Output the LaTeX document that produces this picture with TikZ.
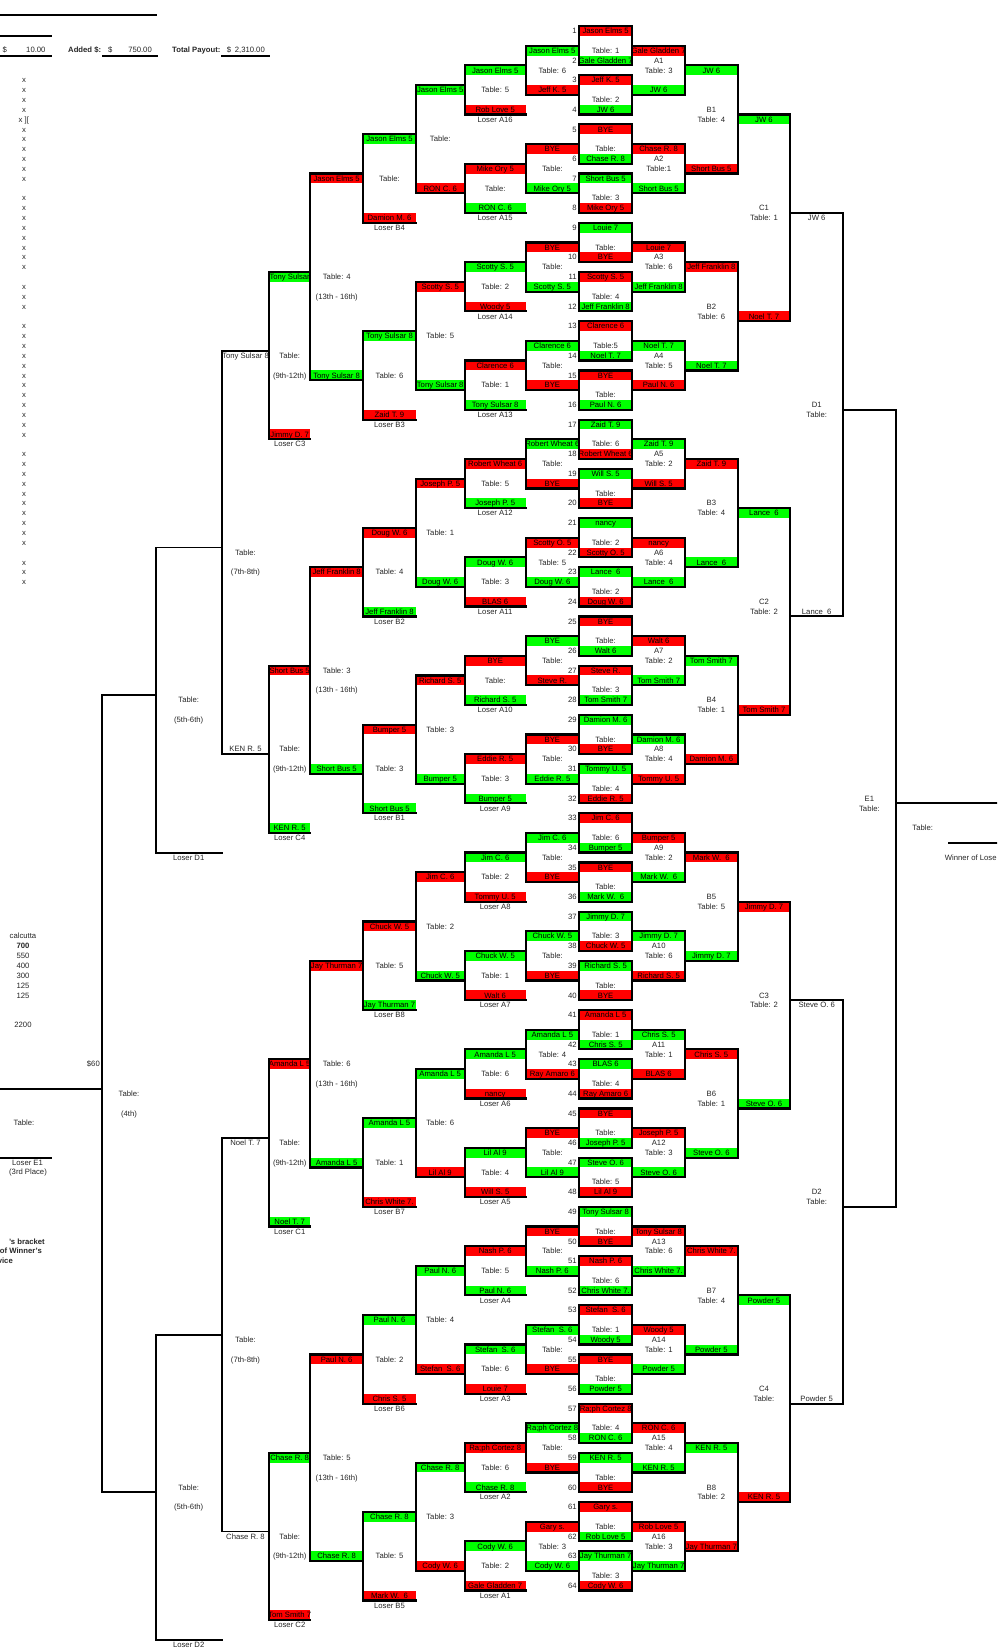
\documentclass[tikz,border=0pt]{standalone}
\usepackage{fontspec}
\setmainfont{Liberation Sans}
\pgfdeclarelayer{bg}
\pgfsetlayers{bg,main}
\definecolor{rd}{RGB}{255,0,0}
\definecolor{gn}{RGB}{0,255,0}
\newcounter{nd}
\tikzset{
 nm/.code={\stepcounter{nd}\pgfkeysalso{name=n\arabic{nd}}},
 tx/.style={nm,inner sep=0pt,font=\fontsize{7.7}{8.5}\selectfont,text=black!85,text height=5.5pt,text depth=0pt},
 bt/.style={tx,text=black},
 hb/.style={tx,font=\fontsize{7.7}{8.5}\selectfont\bfseries},
 bx/.style={line width=2.2pt,line join=miter,line cap=rect},
 br/.style={line width=1.9pt,line join=miter,line cap=rect},
}
% band: x1 x2 row color text
\newcommand\bkBand[5]{%
 \begin{pgfonlayer}{bg}\fill[#4] (#1,#3) rectangle (#2,#3+1);\end{pgfonlayer}%
 \node[bt] at ({(#1+#2)/2},#3+0.5) {#5};}
% winners bracket box (closed on right)
\newcommand\bkW[8]{\bkBand{#1}{#2}{#3}{#5}{#6}\bkBand{#1}{#2}{#4}{#7}{#8}%
 \draw[bx] (#1,#3) -- (#2,#3) -- (#2,#4+1) -- (#1,#4+1);}
% losers bracket box (closed on left)
\newcommand\bkL[8]{\bkBand{#1}{#2}{#3}{#5}{#6}\bkBand{#1}{#2}{#4}{#7}{#8}%
 \draw[bx] (#2,#3) -- (#1,#3) -- (#1,#4+1) -- (#2,#4+1);}
% first round
\newcommand\bkR[6]{%
 \pgfmathtruncatemacro\ra{5*#1}\pgfmathtruncatemacro\rb{5*#1+3}%
 \pgfmathtruncatemacro\sa{2*#1+1}\pgfmathtruncatemacro\sb{2*#1+2}%
 \bkBand{579}{632.3}{\ra}{#2}{#3}\bkBand{579}{632.3}{\rb}{#4}{#5}%
 \draw[bx] (579,\ra) rectangle (632.3,\rb+1);%
 \node[tx] at (605.6,\ra+2.5) {#6};%
 \node[tx,anchor=east] at (576.8,\ra+0.5) {\sa};%
 \node[tx,anchor=east] at (576.8,\rb+0.5) {\sb};}
\newcommand\bkA[6]{%
 \pgfmathtruncatemacro\ra{10*#1+2}\pgfmathtruncatemacro\rb{10*#1+6}\pgfmathtruncatemacro\jj{#1+1}%
 \bkW{632.3}{685}{\ra}{\rb}{#2}{#3}{#4}{#5}%
 \node[tx] at (658.7,\ra+1.5) {A\jj};\node[tx] at (658.7,\ra+2.5) {#6};}
\newcommand\bkB[6]{%
 \pgfmathtruncatemacro\ra{20*#1+4}\pgfmathtruncatemacro\rb{20*#1+14}\pgfmathtruncatemacro\jj{#1+1}%
 \bkW{685}{737.7}{\ra}{\rb}{#2}{#3}{#4}{#5}%
 \node[tx] at (711.4,\ra+4.5) {B\jj};\node[tx] at (711.4,\ra+5.5) {#6};}
\newcommand\bkC[6]{%
 \pgfmathtruncatemacro\ra{40*#1+9}\pgfmathtruncatemacro\rb{40*#1+29}\pgfmathtruncatemacro\jj{#1+1}%
 \bkW{737.7}{790.3}{\ra}{\rb}{#2}{#3}{#4}{#5}%
 \node[tx] at (764,\ra+9.5) {C\jj};\node[tx] at (764,\ra+10.5) {#6};}
\newcommand\bkD[3]{%
 \pgfmathtruncatemacro\ra{80*#1+19}\pgfmathtruncatemacro\rb{80*#1+59}\pgfmathtruncatemacro\jj{#1+1}%
 \draw[br] (790.3,\ra) -- (843,\ra) -- (843,\rb+1) -- (790.3,\rb+1);%
 \node[tx] at (816.7,\ra+0.5) {#2};\node[tx] at (816.7,\rb+0.5) {#3};%
 \node[tx] at (816.7,\ra+19.5) {D\jj};\node[tx] at (816.7,\ra+20.5) {Table:};}
% losers columns
\newcommand\bkLa[6]{%
 \pgfmathtruncatemacro\ra{10*#1+2}\pgfmathtruncatemacro\rb{10*#1+6}%
 \bkL{525.7}{579}{\ra}{\rb}{#2}{#3}{#4}{#5}%
 \node[tx] at (552.4,\ra+2.5) {#6};}
\newcommand\bkLb[6]{%
 \pgfmathtruncatemacro\ra{10*#1+4}\pgfmathtruncatemacro\rb{10*#1+8}\pgfmathtruncatemacro\kk{16-#1}%
 \bkL{464.7}{525.7}{\ra}{\rb}{#2}{#3}{#4}{#5}%
 \node[tx] at (495.2,\ra+2.5) {#6};\node[tx] at (495.2,\ra+5.5) {Loser A\kk};}
\newcommand\bkLc[6]{%
 \pgfmathtruncatemacro\ra{20*#1+6}\pgfmathtruncatemacro\rb{20*#1+16}%
 \bkL{415.7}{464.7}{\ra}{\rb}{#2}{#3}{#4}{#5}%
 \node[tx] at (440.2,\ra+5.5) {#6};}
\newcommand\bkLd[7]{%
 \pgfmathtruncatemacro\ra{20*#1+11}\pgfmathtruncatemacro\rb{20*#1+19}%
 \bkL{363.3}{415.7}{\ra}{\rb}{#2}{#3}{#4}{#5}%
 \node[tx] at (389.5,\ra+4.5) {#6};\node[tx] at (389.5,\ra+9.5) {#7};}
\newcommand\bkLe[6]{%
 \pgfmathtruncatemacro\ra{40*#1+15}\pgfmathtruncatemacro\rb{40*#1+35}%
 \bkL{310}{363.3}{\ra}{\rb}{#2}{#3}{#4}{#5}%
 \node[tx] at (336.7,\ra+10.5) {#6};\node[tx] at (336.7,\ra+12.5) {(13th - 16th)};}
\newcommand\bkLf[6]{%
 \pgfmathtruncatemacro\ra{40*#1+25}\pgfmathtruncatemacro\rb{40*#1+41}%
 \bkL{269.3}{310}{\ra}{\rb}{#2}{#3}{#4}{#5}%
 \node[tx] at (289.7,\ra+8.5) {Table:};\node[tx] at (289.7,\ra+10.5) {(9th-12th)};%
 \node[tx] at (289.7,\ra+17.5) {#6};}
\begin{document}
\begin{tikzpicture}[x=1pt,y=-9.84pt]
\path[use as bounding box] (0,-2.6423) rectangle (997,164.8374);
\clip (0,-2.6423) rectangle (997,164.8374);
% ---------- header ----------
\draw[br,line width=1.8pt] (0,-1.118) -- (156,-1.118);
\draw[br,line width=1.8pt] (0,0.986) -- (50.7,0.986);
\draw[br,line width=1.8pt] (0,3.018) -- (50.7,3.018);
\draw[br,line width=1.8pt] (103,3.018) -- (156.7,3.018);
\draw[br,line width=1.8pt] (222,3.018) -- (269,3.018);
\node[tx,anchor=west] at (2.5,2.44) {\$};
\node[tx,anchor=east] at (45.7,2.44) {10.00};
\node[hb,anchor=west] at (68,2.44) {Added \$:};
\node[tx,anchor=west] at (108,2.44) {\$};
\node[tx,anchor=east] at (152,2.44) {750.00};
\node[hb,anchor=west] at (172,2.44) {Total Payout:};
\node[tx,anchor=west] at (226.7,2.44) {\$};
\node[tx,anchor=east] at (265,2.44) {2,310.00};
% ---------- x list ----------
\foreach \r in {5,6,7,8,10,11,12,13,14,15,17,18,19,20,21,22,23,24,26,27,28,30,31,32,33,34,35,36,37,38,39,40,41,43,44,45,46,47,48,49,50,51,52,54,55,56}
  {\node[tx] at (24,\r+0.5) {x};}
\node[tx,anchor=west] at (18.5,9.5) {x ][};
% ---------- calcutta ----------
\node[tx] at (23,92.5) {calcutta};
\node[hb] at (23,93.5) {700};
\node[tx] at (23,94.5) {550};
\node[tx] at (23,95.5) {400};
\node[tx] at (23,96.5) {300};
\node[tx] at (23,97.5) {125};
\node[tx] at (23,98.5) {125};
\node[tx] at (23,101.5) {2200};
\node[tx,anchor=east] at (100,105.5) {\$60};
\node[hb,anchor=east] at (45,123.5) {'s bracket};
\node[hb,anchor=east] at (42,124.5) {of Winner's};
\node[hb,anchor=east] at (13,125.5) {vice};
% ---------- winners: first round ----------
\bkR{0}{rd}{Jason Elms 5}{gn}{Gale Gladden 7}{Table: 1}
\bkR{1}{rd}{Jeff K. 5}{gn}{JW 6}{Table: 2}
\bkR{2}{rd}{BYE}{gn}{Chase R. 8}{Table:}
\bkR{3}{gn}{Short Bus 5}{rd}{Mike Ory 5}{Table: 3}
\bkR{4}{gn}{Louie 7}{rd}{BYE}{Table:}
\bkR{5}{rd}{Scotty S. 5}{gn}{Jeff Franklin 8}{Table: 4}
\bkR{6}{rd}{Clarence 6}{gn}{Noel T. 7}{Table:5}
\bkR{7}{rd}{BYE}{gn}{Paul N. 6}{Table:}
\bkR{8}{gn}{Zaid T. 9}{rd}{Robert Wheat 6}{Table: 6}
\bkR{9}{gn}{Will S. 5}{rd}{BYE}{Table:}
\bkR{10}{gn}{nancy}{rd}{Scotty O. 5}{Table: 2}
\bkR{11}{gn}{Lance~ 6}{rd}{Doug W. 6}{Table: 2}
\bkR{12}{rd}{BYE}{gn}{Walt 6}{Table:}
\bkR{13}{rd}{Steve R.}{gn}{Tom Smith 7}{Table: 3}
\bkR{14}{gn}{Damion M. 6}{rd}{BYE}{Table:}
\bkR{15}{gn}{Tommy U. 5}{rd}{Eddie R. 5}{Table: 4}
\bkR{16}{rd}{Jim C. 6}{gn}{Bumper 5}{Table: 6}
\bkR{17}{rd}{BYE}{gn}{Mark W.~ 6}{Table:}
\bkR{18}{gn}{Jimmy D. 7}{rd}{Chuck W. 5}{Table: 3}
\bkR{19}{gn}{Richard S. 5}{rd}{BYE}{Table:}
\bkR{20}{rd}{Amanda L 5}{gn}{Chris S. 5}{Table: 1}
\bkR{21}{gn}{BLAS 6}{rd}{Ray Amaro 6}{Table: 4}
\bkR{22}{rd}{BYE}{gn}{Joseph P. 5}{Table:}
\bkR{23}{gn}{Steve O. 6}{rd}{Lil Al 9}{Table: 5}
\bkR{24}{gn}{Tony Sulsar 8}{rd}{BYE}{Table:}
\bkR{25}{rd}{Nash P. 6}{gn}{Chris White 7.}{Table: 6}
\bkR{26}{rd}{Stefan~ S. 6}{gn}{Woody 5}{Table: 1}
\bkR{27}{rd}{BYE}{gn}{Powder 5}{Table:}
\bkR{28}{rd}{Ra;ph Cortez 8}{gn}{RON C. 6}{Table: 4}
\bkR{29}{gn}{KEN R. 5}{rd}{BYE}{Table:}
\bkR{30}{rd}{Gary s.}{gn}{Rob Love 5}{Table:}
\bkR{31}{gn}{Jay Thurman 7}{rd}{Cody W. 6}{Table: 3}
% ---------- winners: A ----------
\bkA{0}{rd}{Gale Gladden 7}{gn}{JW 6}{Table: 3}
\bkA{1}{rd}{Chase R. 8}{gn}{Short Bus 5}{Table:1}
\bkA{2}{rd}{Louie 7}{gn}{Jeff Franklin 8}{Table: 6}
\bkA{3}{gn}{Noel T. 7}{rd}{Paul N. 6}{Table: 5}
\bkA{4}{gn}{Zaid T. 9}{rd}{Will S. 5}{Table: 2}
\bkA{5}{rd}{nancy}{gn}{Lance~ 6}{Table: 4}
\bkA{6}{rd}{Walt 6}{gn}{Tom Smith 7}{Table: 2}
\bkA{7}{gn}{Damion M. 6}{rd}{Tommy U. 5}{Table: 4}
\bkA{8}{rd}{Bumper 5}{gn}{Mark W.~ 6}{Table: 2}
\bkA{9}{gn}{Jimmy D. 7}{rd}{Richard S. 5}{Table: 6}
\bkA{10}{gn}{Chris S. 5}{rd}{BLAS 6}{Table: 1}
\bkA{11}{rd}{Joseph P. 5}{gn}{Steve O. 6}{Table: 3}
\bkA{12}{rd}{Tony Sulsar 8}{gn}{Chris White 7.}{Table: 6}
\bkA{13}{rd}{Woody 5}{gn}{Powder 5}{Table: 1}
\bkA{14}{rd}{RON C. 6}{gn}{KEN R. 5}{Table: 4}
\bkA{15}{rd}{Rob Love 5}{gn}{Jay Thurman 7}{Table: 3}
% ---------- winners: B ----------
\bkB{0}{gn}{JW 6}{rd}{Short Bus 5}{Table: 4}
\bkB{1}{rd}{Jeff Franklin 8}{gn}{Noel T. 7}{Table: 6}
\bkB{2}{rd}{Zaid T. 9}{gn}{Lance~ 6}{Table: 4}
\bkB{3}{gn}{Tom Smith 7}{rd}{Damion M. 6}{Table: 1}
\bkB{4}{rd}{Mark W.~ 6}{gn}{Jimmy D. 7}{Table: 5}
\bkB{5}{rd}{Chris S. 5}{gn}{Steve O. 6}{Table: 1}
\bkB{6}{rd}{Chris White 7.}{gn}{Powder 5}{Table: 4}
\bkB{7}{gn}{KEN R. 5}{rd}{Jay Thurman 7}{Table: 2}
% ---------- winners: C ----------
\bkC{0}{gn}{JW 6}{rd}{Noel T. 7}{Table: 1}
\bkC{1}{gn}{Lance~ 6}{rd}{Tom Smith 7}{Table: 2}
\bkC{2}{rd}{Jimmy D. 7}{gn}{Steve O. 6}{Table: 2}
\bkC{3}{gn}{Powder 5}{rd}{KEN R. 5}{Table:}
% ---------- winners: D, E, final ----------
\bkD{0}{JW 6}{Lance~ 6}
\bkD{1}{Steve O. 6}{Powder 5}
\draw[br] (843,39) -- (895.7,39) -- (895.7,120) -- (843,120);
\node[tx] at (869.4,78.5) {E1};
\node[tx] at (869.4,79.5) {Table:};
\draw[br] (895.7,79) -- (997,79);
\node[tx] at (922.7,81.5) {Table:};
\draw[br] (949,83) -- (997,83);
\node[tx,anchor=west] at (944.6,84.5) {Winner of Lose};
% ---------- losers: L1 ----------
\bkLa{0}{gn}{Jason Elms 5}{rd}{Jeff K. 5}{Table: 6}
\bkLa{1}{rd}{BYE}{gn}{Mike Ory 5}{Table:}
\bkLa{2}{rd}{BYE}{gn}{Scotty S. 5}{Table:}
\bkLa{3}{gn}{Clarence 6}{rd}{BYE}{Table:}
\bkLa{4}{gn}{Robert Wheat 6}{rd}{BYE}{Table:}
\bkLa{5}{rd}{Scotty O. 5}{gn}{Doug W. 6}{Table: 5}
\bkLa{6}{gn}{BYE}{rd}{Steve R.}{Table:}
\bkLa{7}{rd}{BYE}{gn}{Eddie R. 5}{Table:}
\bkLa{8}{gn}{Jim C. 6}{rd}{BYE}{Table:}
\bkLa{9}{gn}{Chuck W. 5}{rd}{BYE}{Table:}
\bkLa{10}{gn}{Amanda L 5}{rd}{Ray Amaro 6}{Table: 4}
\bkLa{11}{rd}{BYE}{gn}{Lil Al 9}{Table:}
\bkLa{12}{rd}{BYE}{gn}{Nash P. 6}{Table:}
\bkLa{13}{gn}{Stefan~ S. 6}{rd}{BYE}{Table:}
\bkLa{14}{gn}{Ra;ph Cortez 8}{rd}{BYE}{Table:}
\bkLa{15}{rd}{Gary s.}{gn}{Cody W. 6}{Table: 3}
% ---------- losers: L2 ----------
\bkLb{0}{gn}{Jason Elms 5}{rd}{Rob Love 5}{Table: 5}
\bkLb{1}{rd}{Mike Ory 5}{gn}{RON C. 6}{Table:}
\bkLb{2}{gn}{Scotty S. 5}{rd}{Woody 5}{Table: 2}
\bkLb{3}{rd}{Clarence 6}{gn}{Tony Sulsar 8}{Table: 1}
\bkLb{4}{rd}{Robert Wheat 6}{gn}{Joseph P. 5}{Table: 5}
\bkLb{5}{gn}{Doug W. 6}{rd}{BLAS 6}{Table: 3}
\bkLb{6}{rd}{BYE}{gn}{Richard S. 5}{Table:}
\bkLb{7}{rd}{Eddie R. 5}{gn}{Bumper 5}{Table: 3}
\bkLb{8}{gn}{Jim C. 6}{rd}{Tommy U. 5}{Table: 2}
\bkLb{9}{gn}{Chuck W. 5}{rd}{Walt 6}{Table: 1}
\bkLb{10}{gn}{Amanda L 5}{rd}{nancy}{Table: 6}
\bkLb{11}{gn}{Lil Al 9}{rd}{Will S. 5}{Table: 4}
\bkLb{12}{rd}{Nash P. 6}{gn}{Paul N. 6}{Table: 5}
\bkLb{13}{gn}{Stefan~ S. 6}{rd}{Louie 7}{Table: 6}
\bkLb{14}{rd}{Ra;ph Cortez 8}{gn}{Chase R. 8}{Table: 6}
\bkLb{15}{gn}{Cody W. 6}{rd}{Gale Gladden 7}{Table: 2}
% ---------- losers: L3 ----------
\bkLc{0}{gn}{Jason Elms 5}{rd}{RON C. 6}{Table:}
\bkLc{1}{rd}{Scotty S. 5}{gn}{Tony Sulsar 8}{Table: 5}
\bkLc{2}{rd}{Joseph P. 5}{gn}{Doug W. 6}{Table: 1}
\bkLc{3}{rd}{Richard S. 5}{gn}{Bumper 5}{Table: 3}
\bkLc{4}{rd}{Jim C. 6}{gn}{Chuck W. 5}{Table: 2}
\bkLc{5}{gn}{Amanda L 5}{rd}{Lil Al 9}{Table: 6}
\bkLc{6}{gn}{Paul N. 6}{rd}{Stefan~ S. 6}{Table: 4}
\bkLc{7}{gn}{Chase R. 8}{rd}{Cody W. 6}{Table: 3}
% ---------- losers: L4 ----------
\bkLd{0}{gn}{Jason Elms 5}{rd}{Damion M. 6}{Table:}{Loser B4}
\bkLd{1}{gn}{Tony Sulsar 8}{rd}{Zaid T. 9}{Table: 6}{Loser B3}
\bkLd{2}{rd}{Doug W. 6}{gn}{Jeff Franklin 8}{Table: 4}{Loser B2}
\bkLd{3}{rd}{Bumper 5}{gn}{Short Bus 5}{Table: 3}{Loser B1}
\bkLd{4}{rd}{Chuck W. 5}{gn}{Jay Thurman 7}{Table: 5}{Loser B8}
\bkLd{5}{gn}{Amanda L 5}{rd}{Chris White 7.}{Table: 1}{Loser B7}
\bkLd{6}{gn}{Paul N. 6}{rd}{Chris S. 5}{Table: 2}{Loser B6}
\bkLd{7}{gn}{Chase R. 8}{rd}{Mark W.~ 6}{Table: 5}{Loser B5}
% ---------- losers: L5 ----------
\bkLe{0}{rd}{Jason Elms 5}{gn}{Tony Sulsar 8}{Table: 4}
\bkLe{1}{rd}{Jeff Franklin 8}{gn}{Short Bus 5}{Table: 3}
\bkLe{2}{rd}{Jay Thurman 7}{gn}{Amanda L 5}{Table: 6}
\bkLe{3}{rd}{Paul N. 6}{gn}{Chase R. 8}{Table: 5}
% ---------- losers: L6 ----------
\bkLf{0}{gn}{Tony Sulsar}{rd}{Jimmy D. 7}{Loser C3}
\bkLf{1}{rd}{Short Bus 5}{gn}{KEN R. 5}{Loser C4}
\bkLf{2}{rd}{Amanda L 5}{gn}{Noel T. 7}{Loser C1}
\bkLf{3}{gn}{Chase R. 8}{rd}{Tom Smith 7}{Loser C2}
% ---------- losers: L7 ----------
\draw[br] (269.3,33) -- (221.7,33) -- (221.7,74) -- (269.3,74);
\node[tx] at (245.5,33.5) {Tony Sulsar 8};
\node[tx] at (245.5,73.5) {KEN R. 5};
\node[tx] at (245.5,53.5) {Table:};
\node[tx] at (245.5,55.5) {(7th-8th)};
\draw[br] (269.3,113) -- (221.7,113) -- (221.7,153) -- (269.3,153);
\node[tx] at (245.5,113.5) {Noel T. 7};
\node[tx] at (245.5,153.5) {Chase R. 8};
\node[tx] at (245.5,133.5) {Table:};
\node[tx] at (245.5,135.5) {(7th-8th)};
% ---------- losers: L8 ----------
\draw[br] (221.7,53) -- (155.7,53) -- (155.7,84) -- (221.7,84);
\node[tx] at (188.7,68.5) {Table:};
\node[tx] at (188.7,70.5) {(5th-6th)};
\node[tx] at (188.7,84.5) {Loser D1};
\draw[br] (221.7,133) -- (155.7,133) -- (155.7,164) -- (221.7,164);
\node[tx] at (188.7,148.5) {Table:};
\node[tx] at (188.7,150.5) {(5th-6th)};
\node[tx] at (188.7,164.5) {Loser D2};
% ---------- losers: L9 and 3rd place ----------
\draw[br] (155.7,68) -- (102.3,68) -- (102.3,149) -- (155.7,149);
\node[tx] at (129,108.5) {Table:};
\node[tx] at (129,110.5) {(4th)};
\draw[br] (102.3,108) -- (0,108);
\node[tx] at (24,111.5) {Table:};
\draw[br] (0,115) -- (50.7,115);
\node[tx] at (27.5,115.55) {Loser E1};
\node[tx] at (28,116.45) {(3rd Place)};
\end{tikzpicture}
\end{document}
